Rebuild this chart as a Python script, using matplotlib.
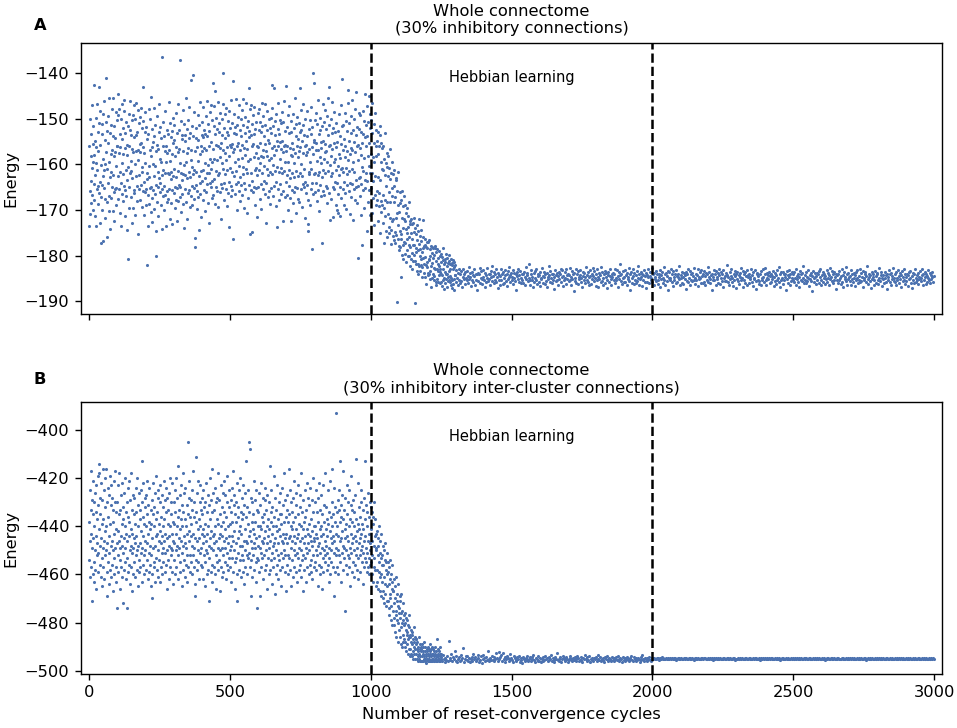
import matplotlib
matplotlib.use("Agg")
import matplotlib.pyplot as plt

# Panel A, whole connectome, 30% inhibitory connections
# cycles 0-999, one point per cycle
energy_a_pre = [
    -156.1, -173.4, -165.8, -150.2, -170.9, -158.2, -163.7, -168.4, -153.3, -160.9, -147.1, -166.8, -155.6, -169.9, -159.4, -151.7, -164.3, -167.8, -142.6, -157.9,
    -162.4, -154.8, -171.3, -149.9, -159.7, -173.6, -156.2, -165.5, -146.8, -161.3, -168.7, -152.9, -164.8, -157.1, -143.2, -166.2, -150.9, -172.8, -155.8, -163.9,
    -148.3, -167.1, -160.2, -177.3, -153.4, -164.6, -151.2, -169.9, -158.8, -149.1, -162.6, -176.8, -165.1, -146.2, -161.2, -171.8, -154.6, -159.9, -167.5, -150.7,
    -141.1, -157.4, -168.2, -161.1, -152.8, -175.9, -164.1, -155.4, -149.4, -170.3, -159.6, -166.9, -145.5, -162.8, -153.1, -174.1, -157.7, -167.4, -151.5, -161.6,
    -164.9, -147.8, -156.9, -170.2, -153.8, -162.3, -145.4, -166.1, -158.1, -172.4, -151.7, -157.3, -165.4, -154.2, -168.8, -148.6, -160.4, -165.2, -156.1, -150.4,
    -155.9, -162.6, -149.3, -167.6, -144.6, -157.5, -165.4, -147.9, -161.7, -153.4, -170.7, -156.3, -164.2, -150.2, -173.4, -159.8, -146.8, -166.6, -154.5, -162.1,
    -152.1, -168.1, -157.8, -148.4, -164.7, -145.9, -156.5, -165.7, -171.4, -153.2, -161.2, -150.8, -166.9, -158.0, -155.7, -163.5, -174.3, -180.8, -151.6, -160.5,
    -165.0, -148.9, -156.0, -169.5, -152.5, -162.0, -146.1, -159.3, -167.2, -153.5, -161.5, -172.9, -150.4, -163.0, -156.7, -149.3, -169.5, -157.3, -165.6, -147.1,
    -154.0, -166.3, -150.0, -160.0, -171.1, -153.7, -162.5, -146.6, -157.2, -168.0, -152.9, -164.8, -156.9, -148.2, -175.2, -159.0, -165.3, -151.0, -162.4, -155.6,
    -167.9, -149.6, -157.4, -164.6, -147.7, -155.3, -169.4, -160.7, -152.0, -161.6, -143.0, -165.9, -156.2, -150.5, -171.0, -157.6, -163.8, -153.0, -166.0, -148.5,
    -159.7, -165.5, -151.8, -169.0, -161.9, -182.1, -154.4, -163.3, -173.6, -153.3, -166.8, -160.3, -148.0, -162.7, -168.6, -156.8, -165.1, -150.2, -170.5, -158.1,
    -145.3, -164.9, -156.3, -167.3, -152.3, -172.7, -159.9, -165.7, -155.1, -147.6, -162.6, -169.8, -153.9, -160.4, -166.4, -151.3, -174.6, -180.1, -157.1, -164.5,
    -155.8, -168.3, -149.4, -161.7, -165.0, -156.6, -171.2, -153.0, -162.9, -146.9, -166.1, -158.9, -164.1, -151.9, -168.9, -159.4, -154.3, -174.2, -162.3, -136.5,
    -165.4, -156.1, -167.0, -150.7, -161.3, -170.1, -153.8, -164.7, -157.0, -166.7, -148.3, -162.0, -155.9, -173.5, -159.6, -165.8, -152.6, -168.2, -157.5, -161.8,
    -153.4, -167.6, -162.2, -146.4, -165.3, -156.9, -171.9, -159.2, -150.9, -163.2, -168.4, -154.0, -161.6, -152.8, -173.1, -157.8, -165.6, -149.9, -162.5, -155.4,
    -166.3, -154.7, -161.0, -151.5, -169.6, -158.1, -164.9, -148.7, -167.8, -156.2, -162.8, -172.3, -153.1, -165.2, -157.4, -146.9, -168.0, -161.5, -152.4, -164.6,
    -156.7, -167.2, -159.8, -137.1, -165.0, -150.6, -161.9, -170.4, -154.5, -163.4, -153.7, -166.6, -148.1, -162.1, -157.2, -168.7, -151.1, -160.2, -174.0, -155.0,
    -165.5, -153.6, -162.4, -145.4, -159.5, -168.3, -152.2, -163.0, -157.6, -172.0, -150.3, -166.2, -156.5, -161.7, -147.5, -165.7, -154.2, -162.7, -169.3, -153.2,
    -159.0, -166.9, -141.6, -156.8, -164.8, -151.7, -168.8, -160.6, -140.4, -162.2, -153.9, -165.1, -148.6, -161.3, -167.5, -157.0, -178.1, -176.1, -154.3, -164.5,
    -152.0, -161.6, -169.7, -156.3, -165.9, -149.2, -159.3, -167.1, -154.6, -162.5, -174.4, -151.4, -164.1, -157.7, -146.3, -166.5, -156.1, -161.4, -171.6, -153.5,
    -157.1, -163.7, -150.8, -167.9, -154.0, -161.2, -147.4, -165.6, -156.4, -152.6, -170.2, -159.7, -153.3, -162.9, -149.5, -166.0, -156.9, -161.8, -146.2, -164.4,
    -153.8, -160.2, -168.5, -151.2, -162.0, -156.0, -172.8, -152.7, -164.2, -148.5, -158.8, -165.0, -155.1, -147.1, -161.1, -167.3, -150.4, -159.4, -163.6, -142.3,
    -156.6, -166.8, -151.6, -158.9, -163.3, -147.2, -168.6, -153.4, -144.0, -161.5, -155.7, -164.9, -149.8, -159.0, -165.8, -152.3, -146.3, -162.4, -156.1, -169.4,
    -153.0, -161.9, -151.0, -158.3, -166.1, -148.8, -156.5, -164.4, -155.4, -171.9, -150.1, -159.8, -165.2, -153.6, -161.0, -146.9, -140.1, -156.8, -164.0, -152.1,
    -167.7, -157.5, -149.1, -162.1, -154.2, -165.5, -147.7, -159.1, -152.9, -169.1, -156.2, -161.3, -150.5, -166.3, -153.7, -158.2, -173.7, -163.8, -148.4, -155.8,
    -160.9, -152.0, -164.8, -146.0, -156.3, -167.0, -150.9, -161.6, -155.5, -165.7, -176.4, -157.4, -141.7, -153.1, -162.5, -148.9, -156.6, -166.4, -151.8, -159.5,
    -164.3, -153.3, -145.8, -161.4, -156.0, -170.0, -151.5, -158.8, -163.9, -149.7, -155.3, -165.9, -147.0, -160.3, -152.5, -168.1, -156.9, -162.7, -150.0, -164.6,
    -153.9, -158.6, -148.2, -166.7, -155.8, -162.2, -145.7, -160.6, -151.3, -169.5, -156.4, -164.1, -149.6, -158.0, -153.2, -165.3, -146.6, -161.1, -155.0, -170.6,
    -151.9, -162.0, -156.7, -167.4, -150.6, -159.2, -143.4, -154.1, -164.5, -152.8, -158.9, -175.3, -148.0, -147.0, -161.8, -153.5, -165.6, -156.1, -174.7, -151.1,
    -163.7, -155.6, -166.0, -149.3, -158.3, -164.9, -153.4, -147.5, -161.3, -168.9, -152.2, -157.5, -165.1, -150.8, -160.8, -171.5, -155.9, -162.3, -148.7, -158.7,
    -156.3, -165.0, -152.4, -161.2, -147.8, -167.6, -155.3, -159.7, -150.7, -164.4, -158.1, -153.0, -169.8, -151.6, -161.9, -146.5, -156.8, -165.5, -149.4, -158.5,
    -163.6, -153.8, -160.4, -146.8, -166.6, -155.6, -151.4, -164.0, -157.2, -172.9, -152.6, -161.0, -148.3, -158.2, -167.2, -154.7, -162.4, -150.2, -159.0, -165.8,
    -155.4, -152.1, -161.7, -168.7, -149.9, -158.6, -165.2, -153.2, -142.6, -156.5, -162.1, -147.6, -160.2, -166.9, -151.7, -155.9, -164.7, -143.4, -158.0, -150.5,
    -161.4, -153.6, -169.2, -156.9, -149.0, -163.8, -155.0, -160.6, -173.8, -152.3, -165.4, -156.0, -146.5, -161.6, -153.3, -167.8, -150.4, -158.8, -164.3, -155.2,
    -151.0, -160.9, -166.4, -156.6, -148.6, -162.0, -154.9, -172.5, -157.4, -165.9, -150.8, -156.1, -161.5, -146.2, -167.1, -152.7, -159.4, -155.8, -142.8, -163.9,
    -157.2, -166.7, -151.8, -162.3, -155.9, -169.9, -149.2, -159.5, -164.7, -153.1, -161.3, -147.2, -167.3, -156.4, -163.1, -152.9, -172.4, -157.9, -150.6, -162.0,
    -155.3, -165.6, -158.1, -148.9, -168.4, -156.7, -162.8, -152.0, -159.8, -166.0, -145.6, -157.5, -164.9, -153.8, -170.6, -161.4, -151.2, -156.0, -165.1, -149.6,
    -158.3, -167.5, -154.5, -162.6, -150.9, -157.1, -168.2, -153.0, -161.8, -143.4, -156.3, -165.4, -148.1, -159.9, -152.5, -162.5, -169.3, -155.0, -164.4, -151.5,
    -157.6, -146.9, -165.0, -153.5, -161.1, -171.8, -156.1, -150.0, -163.9, -155.7, -166.3, -158.0, -148.4, -164.6, -153.9, -157.3, -167.9, -173.1, -174.5, -161.7,
    -152.2, -162.2, -156.6, -168.8, -150.3, -159.6, -165.3, -153.3, -161.0, -147.5, -156.2, -178.6, -164.2, -151.9, -157.7, -166.5, -140.1, -155.1, -162.1, -142.3,
    -154.7, -161.9, -150.4, -166.1, -156.8, -148.7, -164.0, -155.3, -159.2, -168.0, -151.1, -162.4, -156.9, -146.0, -165.7, -153.4, -161.6, -170.3, -152.6, -158.4,
    -164.5, -149.8, -159.7, -155.2, -167.0, -156.5, -177.2, -151.6, -162.7, -154.9, -146.9, -161.2, -165.9, -150.7, -158.8, -166.8, -155.6, -148.2, -162.0, -157.3,
    -152.3, -164.8, -157.1, -168.5, -149.5, -159.4, -165.1, -153.6, -161.5, -145.5, -143.0, -156.0, -166.2, -151.4, -160.1, -172.1, -155.8, -162.6, -150.1, -158.2,
    -167.6, -153.2, -161.8, -146.4, -156.6, -164.9, -152.1, -171.6, -159.6, -155.4, -165.5, -148.5, -158.9, -163.9, -153.0, -169.0, -156.3, -150.9, -161.3, -169.9,
    -155.1, -164.2, -170.6, -152.8, -160.3, -166.6, -149.0, -157.7, -162.3, -171.3, -153.8, -158.6, -165.0, -147.1, -161.0, -155.5, -167.4, -141.3, -151.7, -160.9,
    -156.9, -165.4, -151.3, -161.7, -168.9, -154.5, -163.8, -148.8, -158.4, -166.3, -155.9, -160.8, -150.5, -169.7, -157.2, -164.6, -152.7, -162.2, -146.6, -159.0,
    -143.7, -165.8, -155.0, -161.4, -151.0, -170.9, -157.7, -164.1, -149.4, -156.4, -167.2, -153.1, -161.1, -146.0, -164.4, -156.8, -172.2, -152.4, -159.5, -165.3,
    -155.2, -150.0, -161.6, -167.9, -157.3, -148.0, -144.1, -163.5, -153.7, -165.0, -156.1, -151.8, -168.4, -159.0, -164.8, -180.4, -155.7, -148.8, -162.9, -152.2,
    -166.9, -156.5, -149.2, -162.7, -157.9, -171.1, -152.9, -164.3, -155.4, -177.7, -160.7, -148.3, -165.6, -153.4, -161.5, -169.5, -150.6, -158.6, -163.4, -154.1,
    -144.7, -165.2, -156.0, -151.5, -161.8, -174.5, -153.8, -163.6, -147.3, -158.1, -168.2, -150.8, -160.4, -145.1, -165.7, -155.3, -171.0, -152.1, -162.0, -148.9,
]
# cycles 1000-1299, one point per cycle
energy_a_learn = [
    -150.4, -165.1, -157.8, -170.6, -153.2, -161.9, -146.7, -167.3, -158.4, -163.7, -151.1, -173.2, -159.6, -155.3, -166.8, -148.8, -162.5, -156.0, -168.9, -152.5,
    -158.2, -167.7, -154.8, -165.9, -157.7, -172.4, -152.9, -162.8, -169.2, -156.1, -166.3, -153.7, -163.5, -175.0, -151.6, -168.1, -159.6, -155.3, -170.4, -161.0,
    -156.4, -168.8, -161.2, -172.9, -155.9, -166.7, -177.3, -158.8, -169.6, -162.4, -153.2, -167.9, -171.3, -159.7, -164.8, -174.6, -157.5, -168.3, -160.6, -176.0,
    -162.5, -170.9, -158.2, -173.8, -166.0, -160.9, -175.1, -168.3, -156.6, -171.7, -163.2, -174.4, -161.8, -177.4, -167.0, -159.5, -172.3, -165.1, -175.7, -162.1,
    -172.0, -164.7, -176.6, -168.2, -161.3, -174.9, -167.1, -177.2, -163.4, -171.8, -175.5, -162.9, -170.7, -190.1, -165.8, -176.3, -168.9, -173.2, -161.7, -178.8,
    -170.4, -177.9, -166.1, -174.6, -178.1, -168.5, -175.3, -184.6, -167.8, -176.4, -171.7, -179.9, -165.9, -173.9, -177.6, -169.1, -180.7, -172.0, -166.9, -176.9,
    -172.4, -179.6, -168.9, -177.2, -174.2, -170.6, -181.4, -175.1, -178.8, -169.6, -176.3, -173.7, -180.0, -171.3, -177.7, -168.3, -175.9, -180.1, -173.1, -182.2,
    -178.1, -172.4, -180.7, -175.0, -171.9, -179.5, -176.3, -173.1, -183.0, -177.7, -172.9, -181.1, -174.8, -179.9, -171.8, -177.7, -181.2, -190.3, -173.9, -178.4,
    -181.9, -175.2, -179.1, -183.4, -176.5, -173.3, -181.7, -178.8, -174.6, -184.1, -177.4, -172.0, -182.2, -175.7, -180.0, -178.5, -183.4, -174.4, -180.7, -182.0,
    -176.8, -182.5, -179.2, -184.6, -175.9, -180.6, -178.2, -172.1, -183.8, -177.9, -181.9, -176.4, -184.7, -180.3, -177.6, -182.1, -186.2, -178.0, -181.3, -176.9,
    -182.5, -178.3, -183.8, -177.1, -184.2, -180.8, -183.9, -176.6, -181.0, -185.1, -178.6, -183.3, -180.1, -177.9, -182.3, -186.8, -179.5, -181.6, -178.0, -184.8,
    -180.4, -184.1, -178.4, -185.4, -179.8, -182.6, -184.5, -177.9, -183.0, -178.4, -185.7, -181.2, -186.3, -179.2, -182.8, -185.0, -178.5, -181.9, -185.8, -183.4,
    -180.6, -184.3, -182.2, -178.9, -183.5, -185.9, -180.1, -182.9, -185.8, -179.7, -183.9, -181.4, -186.6, -180.3, -184.2, -178.4, -183.0, -185.3, -181.0, -187.3,
    -181.7, -184.9, -180.8, -183.6, -186.0, -181.3, -185.0, -179.6, -184.1, -182.2, -186.9, -180.5, -183.9, -185.6, -181.5, -184.6, -179.9, -183.4, -185.2, -181.1,
    -182.8, -185.7, -181.9, -184.4, -186.4, -180.7, -184.8, -182.1, -187.0, -181.6, -185.4, -183.0, -180.9, -186.1, -182.5, -185.1, -181.4, -187.6, -184.3, -182.0,
]
# cycles 1300-2998, every second cycle
energy_a_post = [
    -184.3, -185.8, -183.2, -184.9, -186.4, -183.7, -185.2, -182.8, -185.9, -184.1, -183.4, -185.5, -186.8, -184.6, -183.0, -185.1, -184.0, -186.1, -183.6, -184.8,
    -185.4, -183.3, -186.0, -184.4, -182.4, -185.0, -184.7, -183.8, -186.6, -185.3, -183.5, -184.2, -185.7, -182.9, -184.5, -186.3, -183.9, -185.2, -187.4, -184.0,
    -183.8, -185.6, -184.1, -182.7, -185.9, -184.8, -183.4, -186.2, -185.0, -183.1, -184.6, -185.3, -186.9, -183.7, -184.3, -185.8, -182.6, -184.9, -185.5, -183.9,
    -185.1, -184.0, -186.5, -183.3, -184.7, -185.6, -182.2, -184.4, -186.0, -183.6, -185.2, -184.1, -183.0, -185.7, -184.6, -187.1, -183.8, -185.3, -184.2, -186.3,
    -184.5, -182.9, -185.4, -184.0, -186.1, -183.5, -184.8, -185.9, -183.2, -184.3, -185.6, -186.7, -184.1, -183.4, -185.0, -184.7, -182.4, -185.8, -184.2, -183.7,
    -185.3, -184.6, -183.1, -186.2, -184.9, -183.8, -185.5, -184.0, -187.6, -183.6, -184.4, -185.1, -182.8, -185.7, -184.2, -183.3, -186.0, -184.8, -185.2, -183.9,
    -184.1, -185.9, -183.6, -184.7, -186.4, -182.5, -185.0, -184.3, -183.7, -185.6, -184.9, -181.8, -185.3, -186.5, -184.0, -183.2, -185.4, -184.6, -186.9, -183.8,
    -185.7, -183.4, -184.8, -185.2, -183.0, -186.1, -184.5, -183.9, -185.8, -184.2, -186.6, -183.5, -184.9, -185.1, -182.7, -184.4, -185.9, -183.6, -184.7, -186.2,
    -184.0, -185.5, -186.8, -183.7, -184.6, -185.0, -182.3, -184.2, -185.7, -183.3, -184.8, -186.0, -183.9, -185.3, -184.1, -187.3, -184.7, -183.1, -185.6, -184.3,
    -185.2, -183.8, -184.5, -186.3, -183.5, -185.1, -184.0, -182.8, -185.8, -184.6, -183.2, -186.7, -184.4, -185.4, -183.6, -184.9, -186.1, -183.0, -185.0, -184.2,
    -183.9, -185.6, -184.3, -182.6, -185.3, -186.5, -184.7, -183.4, -185.0, -184.1, -187.8, -183.7, -185.5, -184.8, -182.9, -185.9, -184.0, -183.3, -186.2, -184.6,
    -185.0, -184.2, -183.1, -185.7, -184.9, -186.8, -183.6, -184.4, -185.2, -183.8, -184.6, -186.0, -182.4, -185.4, -184.3, -183.5, -185.8, -184.7, -186.4, -183.2,
    -184.4, -186.1, -183.9, -185.0, -182.7, -184.5, -185.6, -183.4, -184.8, -186.6, -184.1, -183.0, -185.3, -184.6, -186.9, -183.7, -185.1, -184.3, -182.5, -185.8,
    -185.5, -183.6, -184.9, -186.3, -184.0, -183.3, -185.9, -184.6, -183.8, -185.2, -187.0, -184.2, -183.5, -185.7, -184.4, -182.8, -185.0, -186.5, -183.9, -184.7,
    -183.7, -185.4, -184.1, -182.9, -186.0, -184.8, -185.3, -183.2, -184.5, -186.8, -183.6, -185.1, -184.3, -181.9, -185.6, -184.0, -186.2, -183.4, -184.9, -185.8,
    -184.6, -183.1, -185.7, -184.2, -186.4, -183.8, -185.0, -184.7, -182.6, -185.5, -184.1, -187.4, -183.5, -184.9, -185.9, -183.0, -184.4, -186.1, -183.7, -185.2,
    -185.9, -184.3, -183.4, -185.6, -184.8, -182.2, -186.3, -184.0, -185.1, -183.6, -184.6, -186.7, -183.9, -185.4, -184.2, -183.1, -185.8, -184.5, -187.1, -183.8,
    -184.2, -185.8, -183.0, -184.7, -186.0, -184.4, -183.5, -185.3, -184.9, -182.7, -185.7, -184.1, -186.5, -183.7, -185.0, -184.6, -183.3, -185.5, -184.0, -186.2,
    -185.4, -183.9, -184.6, -186.9, -183.2, -185.1, -184.3, -183.6, -185.9, -184.8, -182.5, -185.2, -184.0, -186.4, -183.8, -185.6, -184.5, -187.6, -183.4, -184.9,
    -183.6, -185.3, -184.8, -182.8, -185.8, -184.1, -186.6, -183.3, -184.7, -185.4, -184.0, -183.1, -186.0, -184.4, -185.7, -183.9, -184.6, -182.3, -185.1, -186.3,
    -184.9, -184.2, -185.9, -183.5, -184.6, -186.2, -183.8, -185.0, -184.3, -187.2, -183.6, -185.5, -184.1, -182.9, -185.7, -184.8, -183.4, -186.5, -184.0, -185.3,
    -185.6, -183.7, -184.4, -185.2, -182.6, -184.9, -186.1, -183.9, -185.4, -184.2, -183.0, -186.7, -184.6, -185.1, -183.5, -184.8, -185.9, -183.2, -184.5, -186.0,
    -184.1, -185.7, -183.3, -186.4, -184.5, -183.8, -185.3, -184.0, -182.4, -185.8, -184.7, -183.6, -186.0, -185.0, -184.2, -187.5, -183.9, -185.4, -184.6, -183.1,
    -185.2, -184.0, -186.5, -183.4, -185.0, -184.6, -183.7, -185.9, -184.3, -182.8, -186.2, -184.8, -183.5, -185.6, -184.1, -186.8, -183.2, -184.9, -185.5, -184.4,
    -183.8, -185.5, -184.2, -182.1, -185.8, -184.7, -186.3, -183.6, -185.1, -184.4, -183.0, -185.7, -184.9, -186.6, -183.9, -185.3, -184.5, -183.3, -187.0, -184.1,
    -185.0, -183.5, -185.6, -184.3, -186.1, -183.8, -184.6, -185.4, -182.7, -184.8, -186.9, -183.4, -185.2, -184.0, -183.6, -185.9, -184.5, -186.4, -183.1, -184.7,
    -184.3, -186.0, -183.9, -185.1, -184.6, -182.9, -185.7, -184.2, -186.7, -183.5, -185.0, -184.8, -183.2, -185.6, -187.3, -184.1, -183.7, -185.3, -184.4, -186.2,
    -185.5, -184.1, -183.4, -186.3, -184.9, -185.2, -183.0, -184.6, -185.8, -184.0, -182.6, -185.4, -186.5, -183.7, -184.8, -185.1, -184.3, -183.6, -186.0, -184.5,
    -183.9, -185.8, -184.4, -185.0, -183.3, -186.6, -184.7, -183.8, -185.5, -184.2, -186.1, -183.1, -185.3, -184.9, -182.4, -185.7, -184.0, -186.8, -183.6, -185.2,
    -184.8, -183.6, -186.2, -184.1, -185.4, -183.9, -184.6, -187.4, -183.4, -185.0, -184.3, -185.9, -183.2, -184.7, -186.4, -184.0, -185.6, -183.5, -184.9, -185.3,
    -184.0, -185.7, -183.5, -184.8, -186.3, -182.8, -185.1, -184.4, -183.9, -185.8, -184.6, -186.9, -183.3, -185.2, -184.1, -183.7, -185.5, -184.9, -182.2, -185.9,
    -185.3, -184.2, -186.0, -183.6, -184.7, -185.5, -183.1, -184.9, -186.7, -184.3, -185.0, -183.8, -185.6, -184.5, -187.7, -183.4, -184.8, -185.8, -183.7, -184.6,
    -184.5, -186.1, -183.8, -185.2, -184.0, -183.3, -185.9, -184.6, -182.9, -185.4, -186.4, -184.2, -183.5, -185.7, -184.8, -183.9, -186.2, -184.4, -185.1, -183.2,
    -185.8, -183.7, -184.9, -186.5, -184.3, -185.0, -182.7, -184.6, -185.6, -183.4, -184.1, -186.0, -185.3, -183.6, -184.7, -187.2, -183.9, -185.4, -184.2, -185.9,
    -184.1, -185.2, -183.4, -184.8, -186.2, -184.5, -183.0, -185.7, -184.3, -186.8, -183.6, -185.1, -184.7, -182.5, -185.5, -184.0, -186.4, -183.8, -185.0, -184.6,
    -185.6, -184.4, -186.3, -183.2, -185.0, -184.1, -185.8, -183.7, -184.9, -186.6, -184.2, -183.5, -185.4, -184.8, -183.1, -186.0, -184.5, -185.2, -182.8, -185.7,
    -183.8, -185.5, -184.6, -186.9, -183.4, -184.9, -185.3, -184.0, -183.6, -185.8, -184.4, -182.3, -185.1, -186.2, -184.7, -183.9, -185.6, -184.2, -187.0, -183.5,
    -185.1, -183.9, -184.7, -185.4, -186.5, -183.3, -184.5, -185.9, -184.1, -183.7, -185.2, -186.1, -184.8, -182.7, -185.6, -184.3, -183.6, -186.7, -184.9, -185.0,
    -184.3, -186.0, -183.5, -184.8, -185.7, -184.2, -187.3, -183.9, -185.3, -184.6, -183.1, -185.8, -184.0, -186.3, -183.7, -185.1, -184.5, -182.6, -185.5, -184.9,
    -185.7, -184.1, -183.6, -186.4, -184.8, -185.3, -183.2, -184.5, -186.0, -183.8, -185.0, -184.3, -186.8, -183.4, -184.7, -185.6, -182.9, -185.2, -184.0, -186.2,
    -184.6, -185.5, -183.9, -184.2, -186.6, -183.5, -185.1, -184.8, -183.3, -185.9, -184.4, -187.1, -183.7, -185.4, -184.1, -186.0, -183.0, -184.9, -185.7, -184.3,
    -185.2, -183.8, -186.2, -184.6, -185.0, -183.4, -184.9, -185.6, -182.8, -184.3, -186.5, -184.0, -185.3, -183.6, -184.7, -186.1, -183.9, -185.8, -184.5, -183.2,
    -184.8, -185.4, -183.7, -186.0, -184.2, -185.1, -183.5, -184.6, -185.7, -184.4,
]

# Panel B, whole connectome, 30% inhibitory inter-cluster connections
# cycles 0-999, one point per cycle
energy_b_pre = [
    -438, -454, -425, -461, -446, -417, -433, -457, -443, -429, -471, -449, -435, -460, -421, -445, -455, -430, -463, -440,
    -450, -426, -458, -434, -444, -466, -423, -452, -437, -447, -419, -459, -431, -451, -414, -441, -418, -456, -428, -448,
    -435, -461, -445, -422, -453, -439, -465, -429, -449, -416, -457, -437, -446, -425, -462, -442, -432, -452, -420, -450,
    -416, -440, -459, -430, -469, -447, -424, -455, -436, -464, -444, -427, -451, -419, -458, -439, -448, -431, -461, -423,
    -446, -456, -428, -450, -438, -467, -433, -453, -421, -443, -460, -430, -449, -417, -457, -441, -434, -463, -474, -447,
    -430, -452, -442, -423, -459, -446, -435, -418, -454, -433, -449, -466, -427, -444, -457, -422, -448, -439, -461, -432,
    -451, -437, -472, -445, -426, -458, -440, -449, -420, -455, -434, -462, -443, -430, -453, -474, -446, -424, -459, -436,
    -444, -421, -456, -438, -450, -429, -464, -441, -448, -418, -457, -433, -451, -443, -467, -427, -449, -460, -435, -445,
    -455, -428, -447, -439, -461, -424, -452, -434, -444, -458, -420, -450, -440, -465, -431, -448, -454, -426, -459, -437,
    -447, -433, -457, -425, -451, -442, -463, -430, -449, -413, -444, -436, -456, -422, -452, -439, -460, -432, -446, -428,
    -450, -440, -458, -427, -447, -435, -454, -421, -462, -443, -431, -451, -438, -459, -424, -448, -441, -456, -433, -465,
    -439, -452, -429, -460, -445, -470, -435, -449, -422, -457, -440, -432, -455, -426, -448, -463, -437, -444, -419, -453,
    -434, -458, -443, -428, -450, -461, -425, -446, -439, -454, -430, -463, -442, -423, -457, -447, -436, -451, -427, -444,
    -460, -432, -449, -440, -455, -421, -446, -437, -459, -429, -451, -443, -424, -456, -434, -466, -445, -428, -450, -439,
    -454, -433, -444, -462, -426, -448, -440, -457, -420, -449, -435, -452, -430, -459, -443, -422, -450, -438, -464, -446,
    -430, -454, -439, -447, -425, -460, -434, -450, -443, -420, -457, -440, -448, -428, -462, -436, -452, -415, -445, -433,
    -449, -427, -459, -441, -455, -423, -446, -437, -465, -431, -451, -440, -458, -418, -448, -434, -454, -444, -426, -461,
    -437, -447, -424, -456, -440, -449, -431, -463, -443, -452, -405, -435, -457, -428, -446, -442, -421, -452, -436, -459,
    -444, -429, -455, -439, -448, -425, -460, -433, -452, -443, -417, -457, -436, -449, -430, -464, -469, -445, -438, -411,
    -454, -434, -446, -426, -458, -441, -450, -421, -455, -437, -445, -462, -430, -451, -440, -423, -456, -433, -449, -443,
    -435, -457, -428, -447, -441, -462, -425, -452, -444, -432, -455, -439, -465, -430, -450, -422, -446, -460, -434, -443,
    -451, -427, -458, -440, -448, -471, -431, -453, -437, -445, -420, -459, -442, -429, -449, -416, -456, -434, -463, -444,
    -426, -450, -443, -457, -433, -447, -424, -460, -440, -452, -430, -446, -466, -437, -455, -428, -449, -418, -458, -439,
    -445, -454, -429, -450, -435, -467, -443, -423, -457, -440, -449, -432, -461, -444, -426, -452, -438, -459, -421, -446,
    -434, -455, -441, -449, -427, -462, -445, -436, -456, -430, -451, -419, -447, -440, -458, -425, -444, -453, -432, -450,
    -439, -457, -429, -448, -434, -463, -444, -424, -453, -438, -446, -417, -459, -431, -450, -442, -427, -455, -435, -466,
    -447, -430, -453, -438, -460, -422, -471, -445, -436, -451, -432, -458, -442, -425, -454, -440, -448, -420, -461, -434,
    -443, -452, -428, -448, -437, -459, -423, -454, -435, -446, -464, -431, -450, -441, -457, -426, -446, -436, -413, -452,
    -432, -447, -460, -439, -453, -425, -444, -405, -451, -434, -457, -408, -442, -469, -446, -428, -454, -438, -449, -430,
    -461, -441, -435, -452, -421, -447, -443, -458, -429, -449, -438, -455, -425, -445, -463, -433, -453, -474, -440, -448,
    -434, -454, -444, -426, -459, -440, -449, -469, -431, -451, -441, -422, -457, -446, -436, -453, -428, -447, -462, -438,
    -452, -435, -445, -429, -458, -442, -424, -450, -433, -456, -440, -466, -447, -427, -453, -437, -444, -460, -430, -449,
    -441, -458, -415, -446, -434, -454, -438, -425, -451, -443, -464, -432, -448, -440, -457, -419, -447, -436, -453, -468,
    -445, -428, -460, -440, -450, -433, -456, -442, -423, -452, -437, -447, -462, -430, -454, -441, -426, -458, -444, -435,
    -451, -439, -465, -435, -446, -424, -457, -443, -431, -453, -447, -418, -450, -438, -459, -429, -445, -452, -436, -467,
    -443, -433, -456, -447, -427, -452, -438, -460, -416, -445, -435, -453, -444, -425, -458, -440, -449, -430, -465, -441,
    -454, -434, -446, -438, -461, -428, -450, -444, -421, -457, -436, -452, -447, -431, -459, -441, -426, -451, -445, -463,
    -435, -453, -443, -423, -458, -439, -449, -432, -456, -446, -427, -461, -440, -450, -418, -454, -434, -445, -467, -441,
    -452, -429, -447, -438, -458, -444, -425, -453, -436, -449, -463, -433, -451, -441, -422, -457, -443, -447, -428, -460,
    -439, -450, -431, -456, -444, -424, -459, -437, -446, -454, -429, -448, -442, -462, -434, -452, -420, -445, -440, -457,
    -446, -430, -455, -440, -450, -425, -458, -443, -434, -452, -445, -465, -428, -448, -438, -456, -422, -447, -441, -460,
    -433, -451, -444, -427, -457, -440, -449, -466, -435, -453, -443, -423, -459, -438, -450, -431, -455, -446, -418, -452,
    -441, -448, -432, -458, -437, -451, -444, -425, -456, -439, -449, -463, -434, -453, -442, -421, -460, -445, -436, -450,
    -455, -416, -440, -447, -430, -457, -444, -435, -451, -469, -424, -446, -438, -459, -432, -452, -443, -393, -449, -434,
    -457, -440, -429, -450, -444, -460, -433, -452, -425, -446, -413, -438, -455, -436, -463, -445, -431, -451, -442, -427,
    -448, -417, -458, -437, -449, -433, -453, -475, -441, -445, -428, -456, -439, -450, -423, -460, -444, -435, -452, -430,
    -446, -457, -440, -425, -453, -437, -449, -465, -431, -451, -443, -419, -459, -438, -447, -433, -455, -445, -429, -461,
    -440, -450, -434, -456, -444, -427, -452, -446, -412, -437, -458, -442, -449, -422, -453, -439, -462, -432, -447, -441,
    -452, -436, -445, -459, -430, -450, -443, -425, -455, -439, -448, -464, -433, -451, -441, -457, -428, -446, -413, -453,
    -444, -437, -455, -449, -431, -459, -440, -451, -434, -457, -446, -426, -453, -443, -460, -436, -450, -456, -430, -447,
]
# cycles 1000-1249, one point per cycle
energy_b_learn = [
    -441, -455, -432, -460, -446, -434, -452, -439, -463, -436, -457, -448, -430, -453, -444, -458, -437, -450, -465, -443,
    -449, -458, -442, -463, -452, -445, -466, -448, -459, -440, -455, -461, -446, -467, -451, -443, -460, -453, -469, -456,
    -452, -463, -448, -467, -456, -470, -450, -461, -472, -454, -464, -447, -468, -458, -473, -455, -465, -451, -471, -460,
    -459, -471, -455, -474, -464, -457, -477, -462, -470, -454, -468, -479, -460, -473, -463, -481, -466, -456, -475, -467,
    -467, -478, -462, -481, -472, -465, -484, -470, -477, -461, -475, -486, -468, -479, -471, -488, -473, -480, -464, -476,
    -474, -483, -469, -486, -478, -471, -489, -476, -482, -468, -480, -490, -475, -485, -472, -479, -488, -477, -487, -481,
    -480, -488, -476, -490, -483, -478, -492, -485, -479, -489, -484, -493, -481, -487, -477, -491, -486, -482, -494, -485,
    -486, -491, -483, -493, -488, -485, -494, -489, -484, -492, -487, -495, -490, -482, -493, -488, -486, -495, -491, -487,
    -489, -493, -487, -495, -491, -488, -496, -492, -490, -494, -486, -495, -493, -491, -496, -489, -494, -492, -496, -490,
    -491, -494, -489, -496, -492, -490, -496, -493, -495, -488, -494, -496, -492, -495, -490, -494, -493, -497, -491, -495,
    -492, -495, -490, -496, -493, -491, -496, -494, -495, -489, -493, -496, -492, -496, -494, -491, -495, -493, -496, -490,
    -493, -495, -491, -496, -494, -492, -496, -490, -495, -493, -494, -496, -492, -495, -487, -494, -496, -493, -495, -491,
    -494, -496, -492, -495, -493, -496, -494, -490, -495, -493,
]
# cycles 1250-1997, every third cycle
energy_b_post = [
    -494.3, -495.8, -493.6, -495.2, -496.4, -494.7, -495.5, -493.9, -496.0, -487.6, -494.9, -495.7, -493.2, -496.2, -494.5, -495.3, -491.8, -495.9, -494.1, -496.3,
    -495.0, -494.2, -496.1, -493.5, -495.6, -494.8, -490.4, -496.5, -495.2, -494.0, -493.8, -495.4, -496.2, -494.6, -496.6, -495.1, -494.4, -495.9, -492.9, -495.3,
    -494.5, -496.0, -495.2, -493.7, -494.9, -496.3, -495.5, -494.1, -496.7, -495.0, -493.4, -494.8, -495.8, -494.3, -495.6, -491.9, -495.1, -496.1, -494.6, -495.4,
    -493.9, -495.7, -494.4, -496.2, -495.0, -492.6, -494.7, -496.0, -492.3, -495.3, -494.2, -493.6, -495.9, -492.5, -495.2, -494.5, -496.4, -495.0, -493.8, -494.9,
    -496.1, -495.3, -493.1, -494.6, -495.5, -496.3, -494.0, -494.8, -495.7, -496.0, -494.4, -495.2, -493.9, -496.5, -494.7, -495.4, -496.8, -494.3, -495.0, -495.9,
    -494.6, -495.5, -493.8, -496.2, -495.1, -494.5, -496.0, -495.3, -494.2, -493.7, -495.6, -496.4, -494.9, -495.2, -496.1, -494.0, -495.8, -494.7, -496.3, -495.0,
    -494.4, -496.1, -495.4, -493.9, -495.0, -494.6, -496.2, -495.5, -494.3, -495.1, -493.5, -496.0, -494.8, -495.6, -496.4, -494.5, -495.2, -492.8, -495.7, -496.1,
    -495.3, -494.5, -496.3, -495.0, -493.8, -494.9, -495.6, -496.0, -494.4, -495.2, -496.5, -495.4, -494.7, -493.9, -495.1, -496.2, -494.6, -495.5, -494.2, -496.0,
    -495.2, -494.0, -494.8, -496.1, -495.4, -494.3, -495.7, -496.3, -494.6, -495.0, -493.6, -495.3, -496.0, -494.5, -495.6, -494.1, -496.4, -495.1, -494.9, -495.5,
    -496.0, -494.7, -495.3, -494.2, -496.2, -495.0, -493.7, -495.4, -494.4, -496.1, -495.2, -494.8, -495.6, -496.3, -494.5, -495.1, -493.9, -496.0, -495.4, -494.6,
    -495.1, -496.2, -494.3, -495.5, -494.9, -496.0, -495.2, -494.4, -495.7, -493.8, -496.1, -495.3, -494.6, -495.0, -496.4, -494.2, -495.6, -494.8, -496.0, -495.4,
    -494.5, -495.3, -496.1, -494.7, -495.0, -493.9, -495.5, -496.2, -494.3, -495.2, -494.8, -496.0, -495.4, -494.6, -495.1, -496.3, -494.4, -495.7, -493.7, -495.2,
    -496.0, -494.6, -495.3, -494.8, -496.1, -495.0, -494.5, -495.4, -496.2, -494.9,
]
# cycles 2000-2999, every third cycle
energy_b_final = [
    -494.9, -495.2, -494.6, -495.0, -495.3, -494.8, -495.1, -494.7, -495.4, -494.9, -495.0, -494.5, -495.2, -494.8, -495.1, -495.3, -494.7, -495.0, -494.9, -495.2,
    -495.1, -494.7, -495.3, -494.9, -495.0, -494.6, -495.2, -494.8, -495.4, -495.0, -494.9, -495.1, -494.7, -495.3, -494.8, -495.0, -495.2, -494.6, -495.1, -494.9,
    -494.8, -495.0, -495.3, -494.7, -495.1, -494.9, -495.2, -494.6, -495.0, -495.4, -494.8, -495.1, -494.9, -495.2, -494.7, -495.0, -495.3, -494.8, -495.1, -494.6,
    -495.2, -494.9, -494.7, -495.1, -495.0, -495.3, -494.8, -495.2, -494.6, -495.0, -495.1, -494.8, -495.4, -494.9, -495.0, -494.7, -495.2, -495.1, -494.8, -495.3,
    -494.7, -495.1, -495.0, -494.8, -495.3, -494.9, -495.2, -495.0, -494.6, -495.1, -494.9, -495.3, -494.8, -495.0, -495.2, -494.7, -495.1, -494.9, -495.4, -495.0,
    -495.0, -494.8, -495.2, -495.1, -494.7, -495.3, -494.9, -495.0, -495.2, -494.6, -495.1, -494.8, -495.0, -495.3, -494.9, -495.2, -494.7, -495.1, -495.0, -494.8,
    -495.3, -494.9, -495.1, -494.7, -495.0, -495.2, -494.8, -495.4, -494.9, -495.1, -495.0, -494.6, -495.2, -494.9, -495.3, -494.8, -495.0, -495.1, -494.7, -495.2,
    -494.8, -495.2, -494.9, -495.0, -495.3, -494.7, -495.1, -494.9, -495.0, -495.2, -494.8, -495.4, -495.0, -494.7, -495.1, -494.9, -495.2, -495.0, -494.8, -495.1,
    -495.1, -494.8, -495.0, -495.3, -494.9, -495.1, -494.6, -495.2, -495.0, -494.8, -495.3, -494.9, -495.1, -495.0, -494.7, -495.2, -494.9, -495.3, -495.0, -494.8,
    -494.9, -495.3, -494.8, -495.1, -495.0, -494.7, -495.2, -494.9, -495.1, -495.0, -494.8, -495.2, -494.6, -495.1, -495.3, -494.9, -495.0, -494.8, -495.2, -495.0,
    -495.2, -494.8, -495.1, -494.9, -495.4, -495.0, -494.7, -495.1, -494.9, -495.3, -495.0, -494.8, -495.2, -494.9, -495.1, -494.7, -495.0, -495.2, -494.9, -495.1,
    -494.7, -495.1, -495.0, -495.2, -494.9, -495.3, -494.8, -495.0, -495.1, -494.9, -495.2, -494.6, -495.0, -495.3, -494.8, -495.1, -494.9, -495.2, -495.0, -494.8,
    -495.0, -495.2, -494.8, -495.1, -494.9, -495.0, -495.3, -494.7, -495.1, -495.0, -494.9, -495.2, -494.8, -495.4, -495.0, -494.9, -495.1, -494.7, -495.2, -495.0,
    -494.9, -495.1, -495.3, -494.8, -495.0, -495.2, -494.9, -495.1, -494.6, -495.0, -495.2, -494.8, -495.1, -494.9, -495.3, -495.0, -494.8, -495.2, -494.9, -495.1,
    -495.1, -494.9, -495.0, -495.2, -494.7, -495.1, -495.0, -494.8, -495.3, -494.9, -495.1, -495.0, -494.8, -495.2, -494.9, -495.1, -495.3, -494.8, -495.0, -495.2,
    -494.8, -495.0, -495.2, -494.9, -495.1, -494.8, -495.3, -495.0, -494.9, -495.2, -495.1, -494.7, -495.0, -495.2, -494.9, -495.1, -494.8, -495.0, -495.3, -494.9,
    -495.1, -494.9, -495.2, -495.0, -494.8, -495.1, -495.0, -494.9, -495.2, -495.0, -494.8, -495.1, -494.9, -495.0,
]

titles = [
    "Whole connectome\n(30% inhibitory connections)",
    "Whole connectome\n(30% inhibitory inter-cluster connections)",
]
panel_letters = ["A", "B"]
yticks_a = [-140, -150, -160, -170, -180, -190]
yticks_b = [-400, -420, -440, -460, -480, -500]
xticks = [0, 500, 1000, 1500, 2000, 2500, 3000]
phase_bounds = [1000, 2000]

cycles_a = list(range(0, 1000)) + list(range(1000, 1300)) + list(range(1300, 2999, 2))
energy_a = energy_a_pre + energy_a_learn + energy_a_post
cycles_b = (list(range(0, 1000)) + list(range(1000, 1250))
            + list(range(1250, 2000, 3)) + list(range(2000, 3000, 3)))
energy_b = energy_b_pre + energy_b_learn + energy_b_post + energy_b_final

assert len(cycles_a) == len(energy_a), (len(energy_a_pre), len(energy_a_learn), len(energy_a_post))
assert len(cycles_b) == len(energy_b), (len(energy_b_pre), len(energy_b_learn), len(energy_b_post), len(energy_b_final))

plt.rcParams.update({
    "font.family": "DejaVu Sans",
    "font.size": 11.7,
    "axes.linewidth": 1.0,
    "xtick.major.size": 4.1,
    "ytick.major.size": 4.1,
    "xtick.major.width": 1.0,
    "ytick.major.width": 1.0,
    "xtick.major.pad": 4.1,
    "ytick.major.pad": 4.1,
    "axes.titlepad": 7.0,
    "axes.labelpad": 4.7,
})

dot_color = "#4c72b0"

fig = plt.figure(figsize=(9.57, 7.28), dpi=100)
ax_a = fig.add_axes([0.0843, 0.5683, 0.9003, 0.3731])
ax_b = fig.add_axes([0.0843, 0.0742, 0.9003, 0.3732])

panels = [
    (ax_a, cycles_a, energy_a, yticks_a, (-192.8, -133.4)),
    (ax_b, cycles_b, energy_b, yticks_b, (-501.4, -388.4)),
]

for i, (ax, cyc, energy, yt, ylim) in enumerate(panels):
    ax.scatter(cyc, energy, s=5, color=dot_color, linewidths=0, zorder=2)
    for xb in phase_bounds:
        ax.axvline(xb, color="black", linestyle="--", linewidth=1.8, zorder=3)
    ax.text(0.5, 0.873, "Hebbian learning", transform=ax.transAxes,
            ha="center", va="center", fontsize=10.5)
    ax.set_title(titles[i], fontsize=11.7)
    ax.set_xlim(-30, 3029)
    ax.set_ylim(*ylim)
    ax.set_yticks(yt)
    ax.set_xticks(xticks)
    ax.set_ylabel("Energy")

ax_a.tick_params(axis="x", labelbottom=False)
ax_b.set_xlabel("Number of reset-convergence cycles")

fig.text(40 / 957, 1 - 25 / 728, panel_letters[0], fontsize=11.7,
         fontweight="bold", ha="center", va="center")
fig.text(40 / 957, 1 - 380 / 728, panel_letters[1], fontsize=11.7,
         fontweight="bold", ha="center", va="center")

fig.savefig("out.png", dpi=100)
